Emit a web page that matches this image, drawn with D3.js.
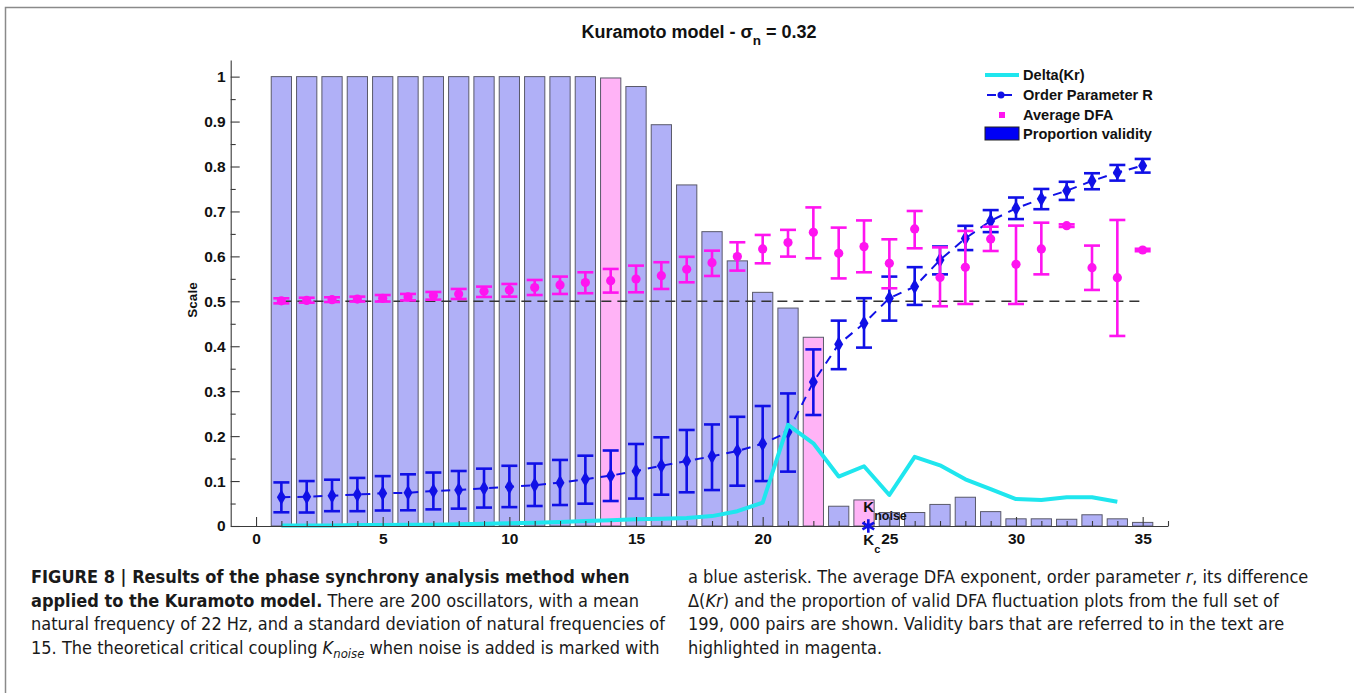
<!DOCTYPE html>
<html>
<head>
<meta charset="utf-8">
<script src="https://cdn.jsdelivr.net/npm/d3@7"></script>
<style>
  html, body { margin: 0; padding: 0; background: #ffffff; }
  svg { display: block; }
</style>
</head>
<body>
<svg id="chart" width="1354" height="693"></svg>
<script>
// ---------------- DATA ----------------
const couplings = [1,2,3,4,5,6,7,8,9,10,11,12,13,14,15,16,17,18,19,20,21,22,23,24,25,26,27,28,29,30,31,32,33,34,35];
const validity = [1,1,1,1,1,1,1,1,1,1,1,1,1,0.997,0.978,0.893,0.759,0.655,0.590,0.520,0.485,0.420,0.044,0.058,0.030,0.030,0.048,0.064,0.032,0.016,0.016,0.015,0.025,0.016,0.008];
const highlighted = [14, 22, 24];

const orderR  = [0.064,0.065,0.0675,0.070,0.0727,0.074,0.078,0.080,0.084,0.0875,0.091,0.0964,0.104,0.112,0.1224,0.134,0.1447,0.155,0.167,0.183,0.209,0.3205,0.4044,0.451,0.507,0.5327,0.592,0.640,0.679,0.707,0.728,0.746,0.768,0.7864,0.8019];
const orderLo = [0.0305,0.030,0.033,0.033,0.0345,0.035,0.037,0.0386,0.041,0.042,0.0445,0.0467,0.0497,0.0556,0.061,0.0697,0.075,0.080,0.0897,0.100,0.121,0.247,0.349,0.397,0.457,0.492,0.560,0.614,0.654,0.683,0.705,0.7256,0.7494,0.7686,0.7864];
const orderHi = [0.097,0.100,0.103,0.107,0.111,0.115,0.119,0.1224,0.1276,0.134,0.139,0.147,0.1565,0.168,0.1825,0.1974,0.2137,0.226,0.243,0.267,0.295,0.393,0.457,0.507,0.555,0.576,0.622,0.668,0.703,0.731,0.750,0.766,0.785,0.8034,0.8168];

const dfaMean = [0.501,0.502,0.5037,0.505,0.5067,0.5097,0.5127,0.5164,0.5223,0.5253,0.5305,0.5364,0.5416,0.546,0.5497,0.557,0.5713,0.586,0.5995,0.6166,0.6307,0.6536,0.6068,0.6217,0.5846,0.661,0.553,0.5757,0.6388,0.5824,0.6165,0.6684,0.5749,0.5527,0.6142];
const dfaLo   = [0.4955,0.497,0.4985,0.4995,0.4995,0.502,0.5037,0.5052,0.5097,0.5104,0.514,0.5164,0.518,0.5194,0.5201,0.5275,0.5423,0.5564,0.5683,0.5846,0.5995,0.5958,0.551,0.5646,0.529,0.618,0.489,0.4941,0.612,0.4941,0.560,0.6655,0.5253,0.4229,0.6115];
const dfaHi   = [0.5067,0.508,0.509,0.5104,0.514,0.5164,0.5208,0.5275,0.5327,0.5386,0.5475,0.555,0.5646,0.572,0.5794,0.587,0.599,0.6127,0.6314,0.6477,0.659,0.709,0.664,0.680,0.638,0.701,0.620,0.6566,0.666,0.6684,0.675,0.6713,0.624,0.681,0.6169];

const deltaK  = [1,2,3,4,5,6,7,8,9,10,11,12,13,14,15,16,17,18,19,20,21,22,23,24,25,26,27,28,29,30,31,32,33,34];
const deltaKr = [0.001,0.001,0.001,0.002,0.002,0.003,0.003,0.004,0.005,0.006,0.007,0.009,0.011,0.013,0.015,0.016,0.018,0.022,0.033,0.052,0.225,0.184,0.110,0.133,0.069,0.154,0.135,0.104,0.082,0.060,0.058,0.064,0.064,0.054];

const threshold = 0.5;
const thresholdRange = [1, 35];
const kNoise = 24.17;

const xTickValues = [0,5,10,15,20,25,30,35];
const xTickLabels = ["0","5","10","15","20","25","30","35"];
const xMinorTicks = [1,2,3,4,6,7,8,9,11,12,13,14,16,17,18,19,21,22,23,24,26,27,28,29,31,32,33,34,36];
const yTickValues = [0,0.1,0.2,0.3,0.4,0.5,0.6,0.7,0.8,0.9,1];
const yTickLabels = ["0","0.1","0.2","0.3","0.4","0.5","0.6","0.7","0.8","0.9","1"];
const yMinorTicks = [0.05,0.15,0.25,0.35,0.45,0.55,0.65,0.75,0.85,0.95];

const legendLabels = ["Delta(Kr)", "Order Parameter R", "Average DFA", "Proportion validity"];

// ---------------- STYLE ----------------
const C = {
  bar: "#b0b0f7", barHi: "#ffb3f6", barStroke: "#5a5a6a",
  blue: "#1010e6", magenta: "#ff14f0", cyan: "#1fe6ee",
  axis: "#3a3a3a", text: "#111"
};
const FONT = "'Liberation Sans', Arial, Helvetica, sans-serif";
const CAPFONT = "'Liberation Sans Narrow', 'DejaVu Sans Condensed', 'Liberation Sans', sans-serif";

const svg = d3.select("#chart");
svg.append("rect").attr("width",1354).attr("height",693).attr("fill","#fff");

// frame
svg.append("path").attr("d","M5.5,693 V7.5 H1354").attr("fill","none")
  .attr("stroke","#8a8a8a").attr("stroke-width",1.5);

const x = d3.scaleLinear().domain([-1, 36]).range([230.7, 1168]);
const y = d3.scaleLinear().domain([0, 1.037]).range([526, 60]);

const plot = svg.append("g");

// bars
plot.selectAll("rect.bar").data(couplings).join("rect")
  .attr("class","bar")
  .attr("x", d => x(d - 0.4))
  .attr("width", x(0.8) - x(0))
  .attr("y", (d,i) => y(validity[i]))
  .attr("height", (d,i) => y(0) - y(validity[i]))
  .attr("fill", d => highlighted.includes(d) ? C.barHi : C.bar)
  .attr("stroke", C.barStroke).attr("stroke-width", 1);

// threshold dashed line
plot.append("line")
  .attr("x1", x(thresholdRange[0])).attr("x2", x(thresholdRange[1]))
  .attr("y1", y(threshold)).attr("y2", y(threshold))
  .attr("stroke","#333").attr("stroke-width",1.4).attr("stroke-dasharray","10,6");

// order parameter (blue)
const capW = 8;
const blueG = plot.append("g").attr("stroke", C.blue).attr("fill", C.blue);
blueG.append("path")
  .datum(couplings)
  .attr("d", d3.line().x(d => x(d)).y((d,i) => y(orderR[i])))
  .attr("fill","none").attr("stroke-width",2).attr("stroke-dasharray","9,7");
couplings.forEach((k,i) => {
  const g = blueG.append("g").attr("stroke-width",2.6);
  g.append("line").attr("x1",x(k)).attr("x2",x(k)).attr("y1",y(orderLo[i])).attr("y2",y(orderHi[i]));
  g.append("line").attr("x1",x(k)-capW).attr("x2",x(k)+capW).attr("y1",y(orderLo[i])).attr("y2",y(orderLo[i]));
  g.append("line").attr("x1",x(k)-capW).attr("x2",x(k)+capW).attr("y1",y(orderHi[i])).attr("y2",y(orderHi[i]));
});
blueG.selectAll("path.pt").data(couplings).join("path")
  .attr("class","pt")
  .attr("d", d3.symbol(d3.symbolDiamond, 70))
  .attr("transform", (d,i) => `translate(${x(d)},${y(orderR[i])})`)
  .attr("stroke","none");

// delta(Kr) cyan
plot.append("path").datum(deltaK)
  .attr("d", d3.line().x(d => x(d)).y((d,i) => y(deltaKr[i])))
  .attr("fill","none").attr("stroke", C.cyan).attr("stroke-width",4).attr("stroke-linejoin","round");

// DFA magenta
const magG = plot.append("g").attr("stroke", C.magenta).attr("fill", C.magenta);
couplings.forEach((k,i) => {
  const g = magG.append("g").attr("stroke-width",2.6);
  g.append("line").attr("x1",x(k)).attr("x2",x(k)).attr("y1",y(dfaLo[i])).attr("y2",y(dfaHi[i]));
  g.append("line").attr("x1",x(k)-capW).attr("x2",x(k)+capW).attr("y1",y(dfaLo[i])).attr("y2",y(dfaLo[i]));
  g.append("line").attr("x1",x(k)-capW).attr("x2",x(k)+capW).attr("y1",y(dfaHi[i])).attr("y2",y(dfaHi[i]));
});
magG.selectAll("circle").data(couplings).join("circle")
  .attr("cx", d => x(d)).attr("cy", (d,i) => y(dfaMean[i])).attr("r",4.6).attr("stroke","none");

// K_noise annotation
const kn = plot.append("text").attr("x", x(kNoise) - 5).attr("y", 512)
  .attr("font-family", FONT).attr("font-weight","bold").attr("font-size",15).attr("fill",C.text);
kn.append("tspan").text("K");
kn.append("tspan").attr("dy",8).attr("font-size",12.5).text("noise");
const kc = plot.append("text").attr("x", x(kNoise) - 5).attr("y", 545)
  .attr("font-family", FONT).attr("font-weight","bold").attr("font-size",15).attr("fill",C.text);
kc.append("tspan").text("K");
kc.append("tspan").attr("dy",8).attr("font-size",11).text("c");

// axes
const axG = svg.append("g");
axG.append("g").attr("transform",`translate(0,${y(0)})`)
  .call(d3.axisBottom(x).tickValues(xTickValues).tickFormat((d,i) => xTickLabels[i])
    .tickSizeInner(-9).tickSizeOuter(0).tickPadding(7));
const xMinor = axG.append("g").attr("transform",`translate(0,${y(0)})`)
  .call(d3.axisBottom(x).tickValues(xMinorTicks).tickFormat("").tickSizeInner(-5).tickSizeOuter(0));
xMinor.select(".domain").remove();
axG.append("g").attr("transform",`translate(${x(-1)},0)`)
  .call(d3.axisLeft(y).tickValues(yTickValues).tickFormat((d,i) => yTickLabels[i])
    .tickSizeInner(-9).tickSizeOuter(0).tickPadding(5));
const yMinor = axG.append("g").attr("transform",`translate(${x(-1)},0)`)
  .call(d3.axisLeft(y).tickValues(yMinorTicks).tickFormat("").tickSizeInner(-5).tickSizeOuter(0));
yMinor.select(".domain").remove();
axG.selectAll(".domain, .tick line").attr("stroke", C.axis).attr("stroke-width",1.1);
axG.selectAll(".tick text").attr("font-family",FONT).attr("font-weight","bold")
  .attr("font-size",15.5).attr("fill",C.text);

// asterisk marking K_noise (on top of axis)
svg.append("path")
  .attr("d", d3.symbol(d3.symbolAsterisk, 130))
  .attr("transform", `translate(${x(kNoise)},${y(0)})`)
  .attr("fill","none").attr("stroke", C.blue).attr("stroke-width",2.6);

// y label
svg.append("text").attr("transform","translate(197,300) rotate(-90)")
  .attr("text-anchor","middle").attr("font-family",FONT).attr("font-weight","bold")
  .attr("font-size",13.5).attr("fill",C.text).text("Scale");

// title
const title = svg.append("text").attr("x",699).attr("y",38).attr("text-anchor","middle")
  .attr("font-family",FONT).attr("font-weight","bold").attr("font-size",18).attr("fill",C.text);
title.append("tspan").text("Kuramoto model - σ");
title.append("tspan").attr("dy",7).attr("font-size",13.5).text("n");
title.append("tspan").attr("dy",-7).text(" = 0.32");

// legend
const lg = svg.append("g").attr("font-family",FONT).attr("font-weight","bold").attr("font-size",14.6).attr("fill",C.text);
const lx0 = 985, lx1 = 1019, ltx = 1023;
const rows = [75, 95, 115, 134];
lg.append("line").attr("x1",lx0).attr("x2",lx1).attr("y1",rows[0]).attr("y2",rows[0])
  .attr("stroke",C.cyan).attr("stroke-width",4);
lg.append("line").attr("x1",lx0+2).attr("x2",lx1).attr("y1",rows[1]).attr("y2",rows[1])
  .attr("stroke",C.blue).attr("stroke-width",2).attr("stroke-dasharray","9,7");
lg.append("circle").attr("cx",(lx0+lx1)/2-1).attr("cy",rows[1]).attr("r",3.5).attr("fill",C.blue);
lg.append("rect").attr("x",(lx0+lx1)/2-3).attr("y",rows[2]-3).attr("width",6).attr("height",6).attr("fill",C.magenta);
lg.append("rect").attr("x",lx0).attr("y",rows[3]-7).attr("width",lx1-lx0).attr("height",13)
  .attr("fill","#0000f5").attr("stroke","#222").attr("stroke-width",1);
legendLabels.forEach((t,i) => {
  lg.append("text").attr("x",ltx).attr("y",rows[i]+5).text(t);
});

// caption
const cap = svg.append("g").attr("font-family",CAPFONT).attr("font-size",18).attr("fill","#1a1a1a");
function line(xp, yp, parts) {
  const t = cap.append("text").attr("x",xp).attr("y",yp);
  parts.forEach(p => {
    const s = t.append("tspan").text(p.t);
    if (p.b) s.attr("font-weight","bold");
    if (p.i) s.attr("font-style","italic");
    if (p.sub) s.attr("font-size",13).attr("dy",4);
    if (p.up) s.attr("dy",-4);
  });
  return t;
}
const L = 31, R = 688, b0 = 583, dl = 23.5;
line(L, b0, [{t:"FIGURE 8 | Results of the phase synchrony analysis method when", b:true}]);
line(L, b0+dl, [{t:"applied to the Kuramoto model.", b:true},{t:" There are 200 oscillators, with a mean"}]);
line(L, b0+2*dl, [{t:"natural frequency of 22 Hz, and a standard deviation of natural frequencies of"}]);
line(L, b0+3*dl, [{t:"15. The theoretical critical coupling "},{t:"K",i:true},{t:"noise",i:true,sub:true},{t:" when noise is added is marked with",up:true}]);
line(R, b0, [{t:"a blue asterisk. The average DFA exponent, order parameter "},{t:"r",i:true},{t:", its difference"}]);
line(R, b0+dl, [{t:"Δ("},{t:"Kr",i:true},{t:") and the proportion of valid DFA fluctuation plots from the full set of"}]);
line(R, b0+2*dl, [{t:"199, 000 pairs are shown. Validity bars that are referred to in the text are"}]);
line(R, b0+3*dl, [{t:"highlighted in magenta."}]);
</script>
</body>
</html>
